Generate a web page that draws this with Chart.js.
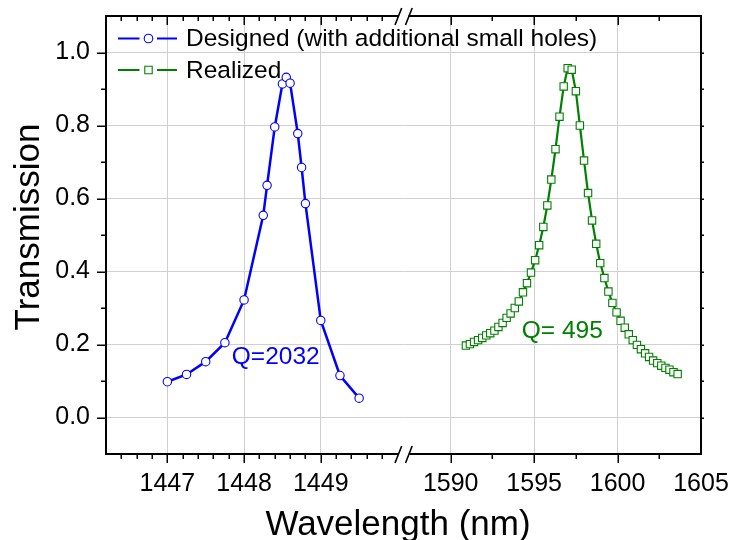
<!DOCTYPE html>
<html><head><meta charset="utf-8">
<script src="https://cdn.jsdelivr.net/npm/chart.js@4/dist/chart.umd.min.js"></script>
<style>html,body{margin:0;padding:0;background:#fff}#wrap{width:732px;height:540px}</style>
</head><body><div id="wrap"><canvas id="c" width="732" height="540"></canvas></div>
<script>
// ---------- data ----------
const designedWavelength = [1447, 1447.25, 1447.5, 1447.75, 1448, 1448.25, 1448.3, 1448.4, 1448.5, 1448.55, 1448.6, 1448.7, 1448.75, 1448.8, 1449, 1449.25, 1449.5];
const designedTransmission = [0.098, 0.118, 0.153, 0.205, 0.322, 0.554, 0.636, 0.796, 0.914, 0.932, 0.916, 0.778, 0.685, 0.586, 0.266, 0.115, 0.053];

const realizedWavelength = [1590.91, 1591.15, 1591.40, 1591.64, 1591.89, 1592.13, 1592.37, 1592.62, 1592.86, 1593.11,
  1593.35, 1593.59, 1593.84, 1594.08, 1594.33, 1594.57, 1594.81, 1595.06, 1595.30, 1595.55,
  1595.79, 1596.03, 1596.28, 1596.52, 1596.77, 1597.01, 1597.25, 1597.50, 1597.74, 1597.99,
  1598.23, 1598.47, 1598.72, 1598.96, 1599.21, 1599.45, 1599.69, 1599.94, 1600.18, 1600.43,
  1600.67, 1600.91, 1601.16, 1601.40, 1601.65, 1601.89, 1602.13, 1602.38, 1602.62, 1602.87,
  1603.11, 1603.35, 1603.60];
const realizedTransmission = [0.197, 0.201, 0.207, 0.212, 0.218, 0.225, 0.231, 0.238, 0.248, 0.259,
  0.273, 0.285, 0.300, 0.318, 0.343, 0.368, 0.397, 0.431, 0.472, 0.522,
  0.581, 0.652, 0.735, 0.824, 0.907, 0.957, 0.953, 0.894, 0.800, 0.704,
  0.615, 0.540, 0.476, 0.423, 0.382, 0.345, 0.314, 0.288, 0.265, 0.246,
  0.228, 0.212, 0.199, 0.187, 0.176, 0.166, 0.156, 0.149, 0.142, 0.136,
  0.131, 0.124, 0.119];

const seriesNames = ['Designed (with additional small holes)', 'Realized'];
const qLabels = ['Q=2032', 'Q= 495'];
const qLabelDesignedAt = [1447.84, 0.146];
const qLabelRealizedAt = [1594.26, 0.217];

const yTicks = [0, 0.2, 0.4, 0.6, 0.8, 1.0];
const yMinorTicks = [0.1, 0.3, 0.5, 0.7, 0.9];
const xTicksLeft = [1447, 1448, 1449];
const xMinorLeft = [1446.4, 1446.6, 1446.8, 1447.2, 1447.4, 1447.6, 1447.8, 1448.2, 1448.4, 1448.6, 1448.8, 1449.2, 1449.4, 1449.6, 1449.8];
const xTicksRight = [1590, 1595, 1600, 1605];
const xMinorRight = [1592.5, 1597.5, 1602.5];
const xLeftRange = [1446.2, 1450.085];
const xRightRange = [1587.2, 1605];
const yRange = [-0.1, 1.1];

const xTitle = 'Wavelength (nm)';
const yTitle = 'Transmission';

// ---------- styles ----------
const FONT = '"Liberation Sans", Arial, Helvetica, sans-serif';
const BLUE = '#0000ff';
const GREEN = '#008000';
const GRID = '#d0d0d0';
Chart.defaults.font.family = FONT;
Chart.defaults.color = '#000';

const noPad = s => { s.paddingLeft = 0; s.paddingRight = 0; s.paddingTop = 0; s.paddingBottom = 0; };

const decor = {
  id: 'decor',
  afterDraw(chart) {
    const ctx = chart.ctx;
    const ca = chart.chartArea;
    const xL = chart.scales.xL, xR = chart.scales.xR, y = chart.scales.y;
    const L = ca.left, R = ca.right, T = ca.top, B = ca.bottom;
    const J = xL.right;
    ctx.save();
    ctx.strokeStyle = '#000';
    ctx.lineCap = 'butt';
    // frame
    ctx.lineWidth = 2;
    ctx.beginPath();
    ctx.moveTo(L, T - 1); ctx.lineTo(L, B + 1);
    ctx.moveTo(R, T - 1); ctx.lineTo(R, B + 1);
    ctx.moveTo(L, B); ctx.lineTo(J - 5.5, B);
    ctx.moveTo(J + 5.5, B); ctx.lineTo(R, B);
    ctx.moveTo(L, T); ctx.lineTo(J - 5.5, T);
    ctx.moveTo(J + 4.5, T); ctx.lineTo(R, T);
    ctx.stroke();
    // break marks
    ctx.lineWidth = 1.6;
    ctx.beginPath();
    for (const yy of [B, T]) {
      ctx.moveTo(J - 9, yy + 9); ctx.lineTo(J - 2.3, yy - 8);
      ctx.moveTo(J + 1.5, yy + 9); ctx.lineTo(J + 8.2, yy - 8);
    }
    ctx.stroke();
    // ticks
    ctx.lineWidth = 1.5;
    ctx.beginPath();
    const xt = (sc, vals, len) => {
      for (const v of vals) {
        const p = Math.round(sc.getPixelForValue(v)) + 0.25;
        ctx.moveTo(p, B); ctx.lineTo(p, B + len);
        ctx.moveTo(p, T); ctx.lineTo(p, T + len);
      }
    };
    xt(xL, xTicksLeft, 9); xt(xL, xMinorLeft, 5);
    xt(xR, xTicksRight.filter(v => v < xRightRange[1]), 9); xt(xR, xMinorRight, 5);
    for (const v of yTicks) {
      const p = Math.round(y.getPixelForValue(v)) + 0.25;
      ctx.moveTo(L, p); ctx.lineTo(L - 9, p);
      ctx.moveTo(R, p); ctx.lineTo(R + 3, p);
    }
    for (const v of yMinorTicks) {
      const p = Math.round(y.getPixelForValue(v)) + 0.25;
      ctx.moveTo(L, p); ctx.lineTo(L - 5, p);
      ctx.moveTo(R, p); ctx.lineTo(R + 3, p);
    }
    ctx.stroke();
    // axis titles
    ctx.fillStyle = '#000';
    ctx.font = '35px ' + FONT;
    ctx.textAlign = 'center';
    ctx.textBaseline = 'alphabetic';
    ctx.fillText(xTitle, 398, 535);
    ctx.save();
    ctx.translate(39, 227);
    ctx.rotate(-Math.PI / 2);
    ctx.fillText(yTitle, 0, 0);
    ctx.restore();
    // legend
    ctx.textAlign = 'left';
    ctx.font = '24.5px ' + FONT;
    const leg = [[BLUE, 'circle', 38.5, 46], [GREEN, 'rect', 70, 77.5]];
    leg.forEach((l, i) => {
      const [col, shape, ly, base] = l;
      ctx.strokeStyle = col; ctx.lineWidth = 2.2;
      ctx.beginPath();
      ctx.moveTo(118, ly); ctx.lineTo(139.5, ly);
      ctx.moveTo(157, ly); ctx.lineTo(177, ly);
      ctx.stroke();
      ctx.lineWidth = 1.1; ctx.fillStyle = '#fff';
      ctx.beginPath();
      if (shape === 'circle') ctx.arc(148.5, ly, 4.3, 0, Math.PI * 2);
      else ctx.rect(144.8, ly - 3.7, 7.4, 7.4);
      ctx.fill(); ctx.stroke();
      ctx.fillStyle = '#000';
      ctx.fillText(seriesNames[i], 186, base);
    });
    // Q annotations
    ctx.fillStyle = BLUE;
    ctx.fillText(qLabels[0], xL.getPixelForValue(qLabelDesignedAt[0]), y.getPixelForValue(qLabelDesignedAt[1]));
    ctx.fillStyle = GREEN;
    ctx.fillText(qLabels[1], xR.getPixelForValue(qLabelRealizedAt[0]), y.getPixelForValue(qLabelRealizedAt[1]));
    ctx.restore();
  }
};

const xScale = (range, ticks, weight) => ({
  type: 'linear', position: 'bottom', stack: 'x', stackWeight: weight,
  min: range[0], max: range[1],
  afterBuildTicks: s => { s.ticks = ticks.map(v => ({ value: v })); },
  afterFit: s => { s.height = 86; noPad(s); },
  grid: { color: c => (c.tick && c.tick.value >= 1605) ? 'rgba(0,0,0,0)' : GRID, lineWidth: 1, drawTicks: false },
  border: { display: false },
  ticks: { font: { size: 25 }, color: '#000', padding: 15, maxRotation: 0, minRotation: 0, autoSkip: false, callback: v => String(v) }
});

new Chart(document.getElementById('c'), {
  type: 'line',
  data: {
    datasets: [
      {
        label: seriesNames[0], xAxisID: 'xL', yAxisID: 'y',
        data: designedWavelength.map((w, i) => ({ x: w, y: designedTransmission[i] })),
        borderColor: BLUE, borderWidth: 2.5, backgroundColor: BLUE,
        pointStyle: 'circle', pointRadius: 4.2, pointBorderWidth: 1.1,
        pointBackgroundColor: '#fff', pointBorderColor: BLUE, tension: 0
      },
      {
        label: seriesNames[1], xAxisID: 'xR', yAxisID: 'y',
        data: realizedWavelength.map((w, i) => ({ x: w, y: realizedTransmission[i] })),
        borderColor: GREEN, borderWidth: 2.2, backgroundColor: GREEN,
        pointStyle: 'rect', pointRadius: 5.2, pointBorderWidth: 1.1,
        pointBackgroundColor: '#fff', pointBorderColor: GREEN, tension: 0
      }
    ]
  },
  options: {
    responsive: false, animation: false, events: [],
    layout: { padding: { left: 0, top: 16, right: 31, bottom: 0 } },
    plugins: { legend: { display: false }, tooltip: { enabled: false }, title: { display: false } },
    scales: {
      xL: xScale(xLeftRange, xTicksLeft, 298),
      xR: xScale(xRightRange, xTicksRight, 297),
      y: {
        type: 'linear', position: 'left', min: yRange[0], max: yRange[1],
        afterBuildTicks: s => { s.ticks = yTicks.map(v => ({ value: v })); },
        afterFit: s => { s.width = 106; noPad(s); },
        grid: { color: GRID, lineWidth: 1, drawTicks: false },
        border: { display: false },
        ticks: { font: { size: 25 }, color: '#000', padding: 16, callback: v => Number(v).toFixed(1) }
      }
    }
  },
  plugins: [decor]
});
</script>
</body></html>
